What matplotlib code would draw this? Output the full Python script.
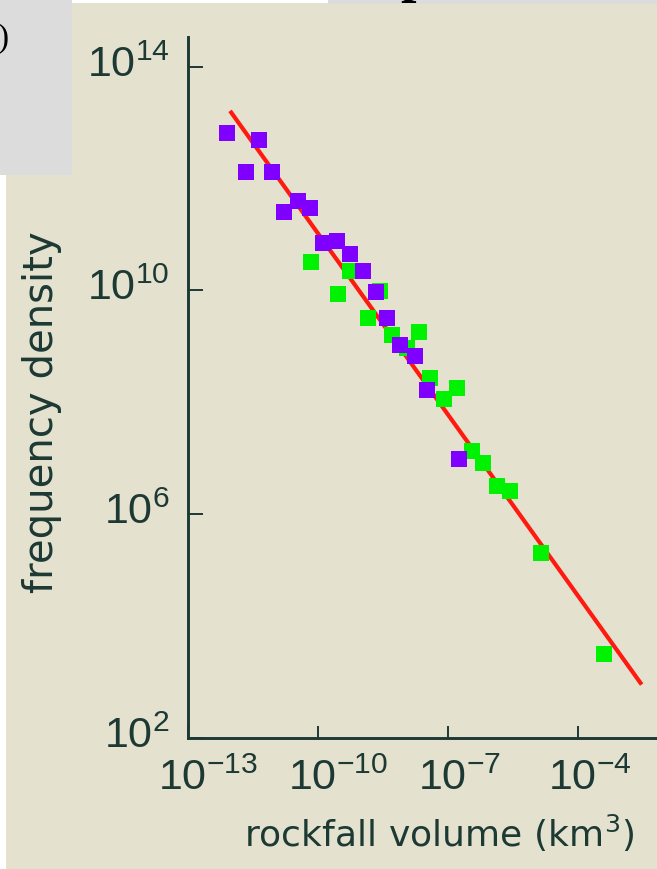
import matplotlib
matplotlib.use('Agg')
import matplotlib.pyplot as plt
from matplotlib.patches import Rectangle
from matplotlib.transforms import ScaledTranslation

# log10 values: rockfall volume (km^3) vs frequency density
purple_logv = [-12.11, -11.36, -11.67, -11.07, -10.78, -10.45, -10.18, -9.88, -9.57,
               -9.26, -8.95, -8.67, -8.40, -8.11, -7.76, -7.49, -6.74]
purple_logf = [12.81, 12.68, 12.11, 12.12, 11.40, 11.60, 11.47, 10.84, 10.88,
               10.65, 10.35, 9.97, 9.50, 9.03, 8.83, 8.22, 6.98]
green_logv = [-10.16, -9.53, -9.26, -8.57, -8.84, -8.29, -7.68, -7.95, -7.42,
              -6.79, -7.09, -6.45, -6.20, -5.88, -5.58, -4.86, -3.40]
green_logf = [10.50, 9.93, 10.35, 9.98, 9.50, 9.20, 9.25, 8.97, 8.43,
              8.25, 8.05, 7.12, 6.92, 6.51, 6.42, 5.31, 3.50]
# power-law fit drawn as a straight line in log-log
fit_logv = [-12.03, -2.53]
fit_logf = [13.21, 2.95]

xtick_exp = [-13, -10, -7, -4]
ytick_exp = [2, 6, 10, 14]

BG = '#e4e2cf'
INK = '#1d3934'
TICKFONT = 'Liberation Sans'

plt.rcParams['mathtext.fontset'] = 'custom'
plt.rcParams['mathtext.rm'] = TICKFONT
plt.rcParams['mathtext.it'] = TICKFONT
plt.rcParams['mathtext.bf'] = TICKFONT

W, H = 657, 869
fig = plt.figure(figsize=(W / 100, H / 100), dpi=100, facecolor=BG)

def frect(x0, y0, x1, y1, color):
    # rectangle in pixel coords (origin top-left)
    fig.patches.append(Rectangle((x0 / W, 1 - y1 / H), (x1 - x0) / W, (y1 - y0) / H,
                                 transform=fig.transFigure, color=color, lw=0, zorder=-5))

frect(0, 0, 72, 175, '#dcdcdc')
frect(0, 175, 6, H, 'white')
frect(72, 0, 328, 3, 'white')
frect(328, 0, W, 4, '#dcdcdc')
fig.text(9 / W, 1 - 39 / H, ')', ha='right', va='center', fontsize=24,
         family='Liberation Serif', color='black')
fig.text(400 / W, 1 + 9 / H, 'p', ha='left', va='baseline', fontsize=40,
         family='Liberation Serif', weight='bold', color='black')

ax = fig.add_axes([188 / W, 1 - 737.7 / H, 469 / W, 701 / H])
ax.set_facecolor('none')
ax.set_xscale('log')
ax.set_yscale('log')

ax.plot([10.0 ** v for v in fit_logv], [10.0 ** f for f in fit_logf],
        color='#ff1a10', lw=3, solid_capstyle='butt', zorder=2)
ax.plot([10.0 ** v for v in green_logv], [10.0 ** f for f in green_logf], 's',
        color='#00f200', ms=11.8, mew=0, zorder=3)
ax.plot([10.0 ** v for v in purple_logv], [10.0 ** f for f in purple_logf], 's',
        color='#7f00ff', ms=11.8, mew=0, zorder=4)

ax.set_xlim(1e-13, 10 ** -2.176)
ax.set_ylim(1e2, 10 ** 14.536)

for s in ['top', 'right']:
    ax.spines[s].set_visible(False)
for s in ['left', 'bottom']:
    ax.spines[s].set_color(INK)
    ax.spines[s].set_linewidth(2.1)

ax.xaxis.set_minor_locator(matplotlib.ticker.NullLocator())
ax.yaxis.set_minor_locator(matplotlib.ticker.NullLocator())
ax.set_xticks([10.0 ** e for e in xtick_exp])
ax.set_xticklabels([r'$\mathregular{10^{%d}}$' % e for e in xtick_exp])
ax.set_yticks([10.0 ** e for e in ytick_exp])
ax.set_yticklabels([r'$\mathregular{10^{%d}}$' % e for e in ytick_exp])

ax.tick_params(axis='x', direction='in', length=9, width=1.4, color=INK,
               labelcolor=INK, labelsize=31, pad=37.4)
ax.tick_params(axis='y', direction='in', length=10.8, width=1.4, color=INK,
               labelcolor=INK, labelsize=31, pad=13)

dx = ScaledTranslation(-30 / 100, 0, fig.dpi_scale_trans)
for lbl in ax.get_xticklabels():
    lbl.set_family(TICKFONT)
    lbl.set_ha('left')
    lbl.set_va('baseline')
    lbl.set_transform(lbl.get_transform() + dx)
dy = ScaledTranslation(0, -10 / 100, fig.dpi_scale_trans)
for lbl in ax.get_yticklabels():
    lbl.set_family(TICKFONT)
    lbl.set_ha('right')
    lbl.set_va('baseline')
    lbl.set_transform(lbl.get_transform() + dy)

ax.set_xlabel(r'rockfall volume (km$^\mathregular{3}$)', fontsize=26,
              family='DejaVu Sans', color=INK, va='baseline')
ax.xaxis.set_label_coords(0.535, (737.7 - 847) / 701)
ax.set_ylabel('frequency density', fontsize=29, family='DejaVu Sans',
              color=INK, va='baseline')
ax.yaxis.set_label_coords((53 - 188) / 469, (737.7 - 412) / 701)

fig.savefig('out.png', dpi=100, facecolor=BG)
